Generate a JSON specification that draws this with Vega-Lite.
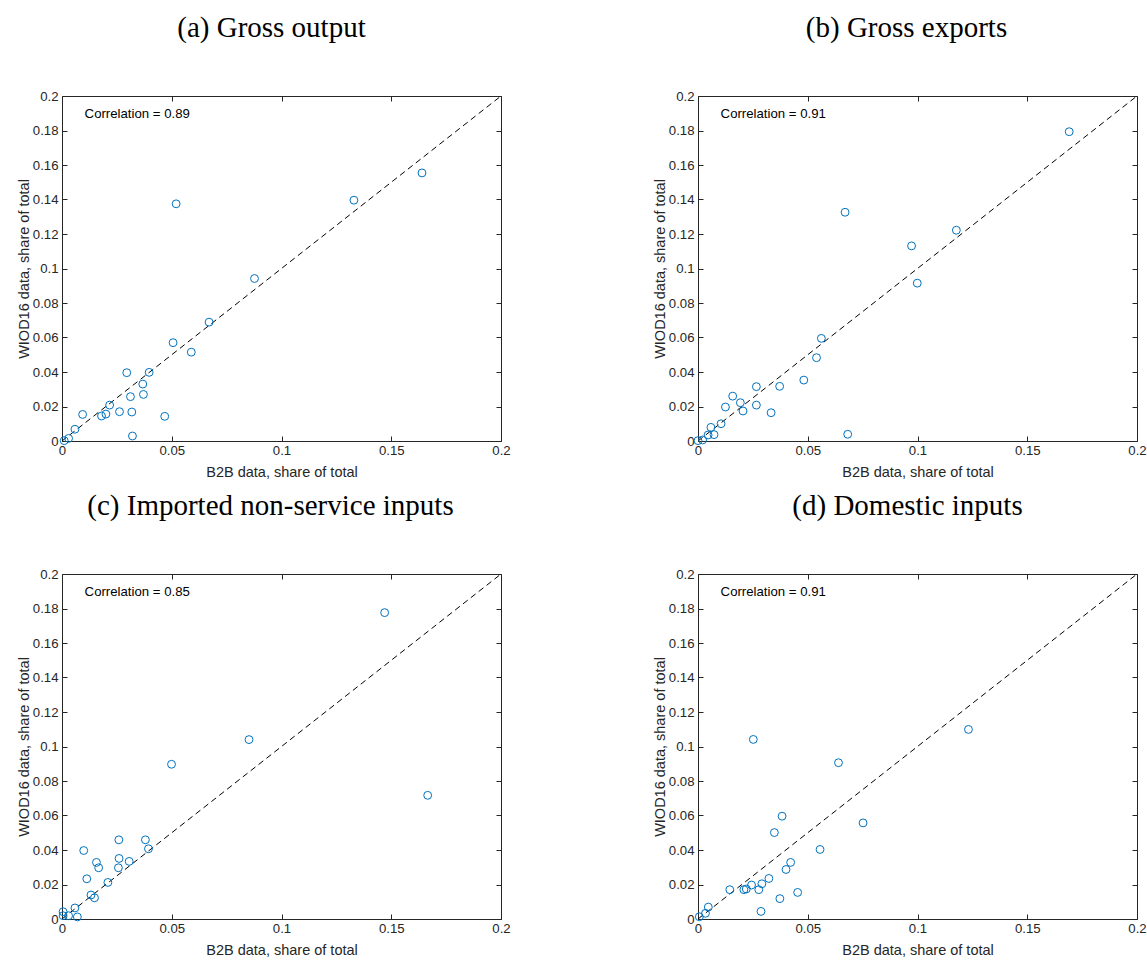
{
  "$schema": "https://vega.github.io/schema/vega-lite/v6.json",
  "padding": {"left": 16, "top": 14, "right": 5, "bottom": 5},
  "background": "white",
  "datasets": {
    "diag": [{"v": 0}, {"v": 0.2}],
    "corr": [
      {"panel": "a", "x": 0.0103, "y": 0.1895, "label": "Correlation = 0.89"},
      {"panel": "b", "x": 0.0103, "y": 0.1895, "label": "Correlation = 0.91"},
      {"panel": "c", "x": 0.0103, "y": 0.1895, "label": "Correlation = 0.85"},
      {"panel": "d", "x": 0.0103, "y": 0.1895, "label": "Correlation = 0.91"}
    ],
    "a": [
      {"b2b": 0.001, "wiod": 0.0002}, {"b2b": 0.003, "wiod": 0.0015}, {"b2b": 0.0059, "wiod": 0.0068},
      {"b2b": 0.0094, "wiod": 0.0154}, {"b2b": 0.018, "wiod": 0.0145}, {"b2b": 0.020, "wiod": 0.0156},
      {"b2b": 0.0217, "wiod": 0.0208}, {"b2b": 0.0262, "wiod": 0.017}, {"b2b": 0.0295, "wiod": 0.0396},
      {"b2b": 0.0312, "wiod": 0.0257}, {"b2b": 0.0318, "wiod": 0.0168}, {"b2b": 0.0321, "wiod": 0.0029},
      {"b2b": 0.0368, "wiod": 0.033}, {"b2b": 0.0371, "wiod": 0.027}, {"b2b": 0.0397, "wiod": 0.0398},
      {"b2b": 0.0468, "wiod": 0.0143}, {"b2b": 0.0506, "wiod": 0.057}, {"b2b": 0.052, "wiod": 0.1375},
      {"b2b": 0.0589, "wiod": 0.0515}, {"b2b": 0.067, "wiod": 0.0689}, {"b2b": 0.0877, "wiod": 0.0942},
      {"b2b": 0.133, "wiod": 0.1396}, {"b2b": 0.164, "wiod": 0.1554}
    ],
    "b": [
      {"b2b": 0.0, "wiod": 0.0002}, {"b2b": 0.0021, "wiod": 0.0006}, {"b2b": 0.0046, "wiod": 0.0035},
      {"b2b": 0.0059, "wiod": 0.0079}, {"b2b": 0.0073, "wiod": 0.0037}, {"b2b": 0.0105, "wiod": 0.010},
      {"b2b": 0.0125, "wiod": 0.0197}, {"b2b": 0.0158, "wiod": 0.026}, {"b2b": 0.0193, "wiod": 0.0222},
      {"b2b": 0.0205, "wiod": 0.0174}, {"b2b": 0.0266, "wiod": 0.0315}, {"b2b": 0.0266, "wiod": 0.0208},
      {"b2b": 0.0333, "wiod": 0.0164}, {"b2b": 0.0372, "wiod": 0.0317}, {"b2b": 0.0482, "wiod": 0.0353},
      {"b2b": 0.054, "wiod": 0.0483}, {"b2b": 0.0562, "wiod": 0.0595}, {"b2b": 0.067, "wiod": 0.1326},
      {"b2b": 0.0682, "wiod": 0.0039}, {"b2b": 0.0973, "wiod": 0.1131}, {"b2b": 0.0999, "wiod": 0.0915},
      {"b2b": 0.1177, "wiod": 0.1222}, {"b2b": 0.1691, "wiod": 0.1793}
    ],
    "c": [
      {"b2b": 0.0005, "wiod": 0.0042}, {"b2b": 0.0005, "wiod": 0.0019}, {"b2b": 0.003, "wiod": 0.0019},
      {"b2b": 0.0059, "wiod": 0.0064}, {"b2b": 0.007, "wiod": 0.0012}, {"b2b": 0.0099, "wiod": 0.0397},
      {"b2b": 0.0113, "wiod": 0.0233}, {"b2b": 0.0132, "wiod": 0.0139}, {"b2b": 0.0148, "wiod": 0.0123},
      {"b2b": 0.0157, "wiod": 0.0328}, {"b2b": 0.0167, "wiod": 0.0297}, {"b2b": 0.0209, "wiod": 0.0212},
      {"b2b": 0.0257, "wiod": 0.0297}, {"b2b": 0.0259, "wiod": 0.0459}, {"b2b": 0.026, "wiod": 0.0351},
      {"b2b": 0.0306, "wiod": 0.0334}, {"b2b": 0.038, "wiod": 0.0459}, {"b2b": 0.0394, "wiod": 0.0407},
      {"b2b": 0.0499, "wiod": 0.0897}, {"b2b": 0.0852, "wiod": 0.104}, {"b2b": 0.147, "wiod": 0.1776},
      {"b2b": 0.1666, "wiod": 0.0717}
    ],
    "d": [
      {"b2b": 0.0006, "wiod": 0.0013}, {"b2b": 0.0034, "wiod": 0.0033}, {"b2b": 0.0047, "wiod": 0.0069},
      {"b2b": 0.0145, "wiod": 0.017}, {"b2b": 0.0209, "wiod": 0.017}, {"b2b": 0.022, "wiod": 0.0174},
      {"b2b": 0.0244, "wiod": 0.0197}, {"b2b": 0.0252, "wiod": 0.1041}, {"b2b": 0.0277, "wiod": 0.017},
      {"b2b": 0.0287, "wiod": 0.0044}, {"b2b": 0.0291, "wiod": 0.0204}, {"b2b": 0.0323, "wiod": 0.0235},
      {"b2b": 0.0348, "wiod": 0.0501}, {"b2b": 0.0373, "wiod": 0.0118}, {"b2b": 0.0383, "wiod": 0.0596},
      {"b2b": 0.0401, "wiod": 0.0287}, {"b2b": 0.0422, "wiod": 0.0328}, {"b2b": 0.0454, "wiod": 0.0154},
      {"b2b": 0.0556, "wiod": 0.0403}, {"b2b": 0.064, "wiod": 0.0906}, {"b2b": 0.0752, "wiod": 0.0557},
      {"b2b": 0.1232, "wiod": 0.1099}
    ]
  },
  "columns": 2,
  "bounds": "flush",
  "spacing": {"row": 133, "column": 197},
  "concat": [
    {
      "width": 439, "height": 345,
      "title": {"text": "(a) Gross output", "dx": -10},
      "layer": [
        {"data": {"name": "diag"}, "mark": {"type": "line", "color": "black", "strokeWidth": 1, "strokeDash": [6, 4]},
         "encoding": {
           "x": {"field": "v", "type": "quantitative", "scale": {"domain": [0, 0.2], "nice": false, "zero": false}, "axis": {"orient": "top", "values": [0, 0.05, 0.1, 0.15, 0.2], "labels": false, "title": null}},
           "y": {"field": "v", "type": "quantitative", "scale": {"domain": [0, 0.2], "nice": false, "zero": false}, "axis": {"orient": "right", "values": [0, 0.02, 0.04, 0.06, 0.08, 0.1, 0.12, 0.14, 0.16, 0.18, 0.2], "labels": false, "title": null}}
         }},
        {"data": {"name": "a"}, "mark": {"type": "point", "shape": "circle", "filled": false, "color": "#0072BD", "size": 62, "strokeWidth": 1, "opacity": 1},
         "encoding": {
           "x": {"field": "b2b", "type": "quantitative", "axis": {"orient": "bottom", "values": [0, 0.05, 0.1, 0.15, 0.2], "title": "B2B data, share of total"}},
           "y": {"field": "wiod", "type": "quantitative", "axis": {"orient": "left", "values": [0, 0.02, 0.04, 0.06, 0.08, 0.1, 0.12, 0.14, 0.16, 0.18, 0.2], "title": "WIOD16 data, share of total"}}
         }},
        {"data": {"name": "corr"}, "transform": [{"filter": "datum.panel == 'a'"}],
         "mark": {"type": "text", "align": "left", "baseline": "middle", "font": "Liberation Sans", "fontSize": 13.2, "color": "black"},
         "encoding": {"x": {"field": "x", "type": "quantitative", "axis": null}, "y": {"field": "y", "type": "quantitative", "axis": null}, "text": {"field": "label"}}}
      ]
    },
    {
      "width": 439, "height": 345,
      "title": {"text": "(b) Gross exports", "dx": -11},
      "layer": [
        {"data": {"name": "diag"}, "mark": {"type": "line", "color": "black", "strokeWidth": 1, "strokeDash": [6, 4]},
         "encoding": {
           "x": {"field": "v", "type": "quantitative", "scale": {"domain": [0, 0.2], "nice": false, "zero": false}, "axis": {"orient": "top", "values": [0, 0.05, 0.1, 0.15, 0.2], "labels": false, "title": null}},
           "y": {"field": "v", "type": "quantitative", "scale": {"domain": [0, 0.2], "nice": false, "zero": false}, "axis": {"orient": "right", "values": [0, 0.02, 0.04, 0.06, 0.08, 0.1, 0.12, 0.14, 0.16, 0.18, 0.2], "labels": false, "title": null}}
         }},
        {"data": {"name": "b"}, "mark": {"type": "point", "shape": "circle", "filled": false, "color": "#0072BD", "size": 62, "strokeWidth": 1, "opacity": 1},
         "encoding": {
           "x": {"field": "b2b", "type": "quantitative", "axis": {"orient": "bottom", "values": [0, 0.05, 0.1, 0.15, 0.2], "title": "B2B data, share of total"}},
           "y": {"field": "wiod", "type": "quantitative", "axis": {"orient": "left", "values": [0, 0.02, 0.04, 0.06, 0.08, 0.1, 0.12, 0.14, 0.16, 0.18, 0.2], "title": "WIOD16 data, share of total"}}
         }},
        {"data": {"name": "corr"}, "transform": [{"filter": "datum.panel == 'b'"}],
         "mark": {"type": "text", "align": "left", "baseline": "middle", "font": "Liberation Sans", "fontSize": 13.2, "color": "black"},
         "encoding": {"x": {"field": "x", "type": "quantitative", "axis": null}, "y": {"field": "y", "type": "quantitative", "axis": null}, "text": {"field": "label"}}}
      ]
    },
    {
      "width": 439, "height": 345,
      "title": {"text": "(c) Imported non-service inputs", "dx": -11},
      "layer": [
        {"data": {"name": "diag"}, "mark": {"type": "line", "color": "black", "strokeWidth": 1, "strokeDash": [6, 4]},
         "encoding": {
           "x": {"field": "v", "type": "quantitative", "scale": {"domain": [0, 0.2], "nice": false, "zero": false}, "axis": {"orient": "top", "values": [0, 0.05, 0.1, 0.15, 0.2], "labels": false, "title": null}},
           "y": {"field": "v", "type": "quantitative", "scale": {"domain": [0, 0.2], "nice": false, "zero": false}, "axis": {"orient": "right", "values": [0, 0.02, 0.04, 0.06, 0.08, 0.1, 0.12, 0.14, 0.16, 0.18, 0.2], "labels": false, "title": null}}
         }},
        {"data": {"name": "c"}, "mark": {"type": "point", "shape": "circle", "filled": false, "color": "#0072BD", "size": 62, "strokeWidth": 1, "opacity": 1},
         "encoding": {
           "x": {"field": "b2b", "type": "quantitative", "axis": {"orient": "bottom", "values": [0, 0.05, 0.1, 0.15, 0.2], "title": "B2B data, share of total"}},
           "y": {"field": "wiod", "type": "quantitative", "axis": {"orient": "left", "values": [0, 0.02, 0.04, 0.06, 0.08, 0.1, 0.12, 0.14, 0.16, 0.18, 0.2], "title": "WIOD16 data, share of total"}}
         }},
        {"data": {"name": "corr"}, "transform": [{"filter": "datum.panel == 'c'"}],
         "mark": {"type": "text", "align": "left", "baseline": "middle", "font": "Liberation Sans", "fontSize": 13.2, "color": "black"},
         "encoding": {"x": {"field": "x", "type": "quantitative", "axis": null}, "y": {"field": "y", "type": "quantitative", "axis": null}, "text": {"field": "label"}}}
      ]
    },
    {
      "width": 439, "height": 345,
      "title": {"text": "(d) Domestic inputs", "dx": -10},
      "layer": [
        {"data": {"name": "diag"}, "mark": {"type": "line", "color": "black", "strokeWidth": 1, "strokeDash": [6, 4]},
         "encoding": {
           "x": {"field": "v", "type": "quantitative", "scale": {"domain": [0, 0.2], "nice": false, "zero": false}, "axis": {"orient": "top", "values": [0, 0.05, 0.1, 0.15, 0.2], "labels": false, "title": null}},
           "y": {"field": "v", "type": "quantitative", "scale": {"domain": [0, 0.2], "nice": false, "zero": false}, "axis": {"orient": "right", "values": [0, 0.02, 0.04, 0.06, 0.08, 0.1, 0.12, 0.14, 0.16, 0.18, 0.2], "labels": false, "title": null}}
         }},
        {"data": {"name": "d"}, "mark": {"type": "point", "shape": "circle", "filled": false, "color": "#0072BD", "size": 62, "strokeWidth": 1, "opacity": 1},
         "encoding": {
           "x": {"field": "b2b", "type": "quantitative", "axis": {"orient": "bottom", "values": [0, 0.05, 0.1, 0.15, 0.2], "title": "B2B data, share of total"}},
           "y": {"field": "wiod", "type": "quantitative", "axis": {"orient": "left", "values": [0, 0.02, 0.04, 0.06, 0.08, 0.1, 0.12, 0.14, 0.16, 0.18, 0.2], "title": "WIOD16 data, share of total"}}
         }},
        {"data": {"name": "corr"}, "transform": [{"filter": "datum.panel == 'd'"}],
         "mark": {"type": "text", "align": "left", "baseline": "middle", "font": "Liberation Sans", "fontSize": 13.2, "color": "black"},
         "encoding": {"x": {"field": "x", "type": "quantitative", "axis": null}, "y": {"field": "y", "type": "quantitative", "axis": null}, "text": {"field": "label"}}}
      ]
    }
  ],
  "config": {
    "view": {"stroke": null},
    "title": {"font": "Liberation Serif", "fontSize": 29, "fontWeight": "normal", "color": "black", "anchor": "middle", "offset": 46},
    "axis": {
      "grid": false,
      "format": "~g",
      "labelFont": "Liberation Sans",
      "labelFontSize": 13.2,
      "labelColor": "#262626",
      "labelFlush": false,
      "labelOverlap": false,
      "titleFont": "Liberation Sans",
      "titleFontSize": 14.5,
      "titleFontWeight": "normal",
      "titleColor": "#262626",
      "domainColor": "#262626",
      "domainWidth": 1,
      "tickColor": "#262626",
      "tickWidth": 1,
      "tickSize": -5
    },
    "axisBottom": {"labelPadding": 8.5, "titlePadding": 9},
    "axisLeft": {"labelPadding": 9, "titlePadding": 1}
  }
}
